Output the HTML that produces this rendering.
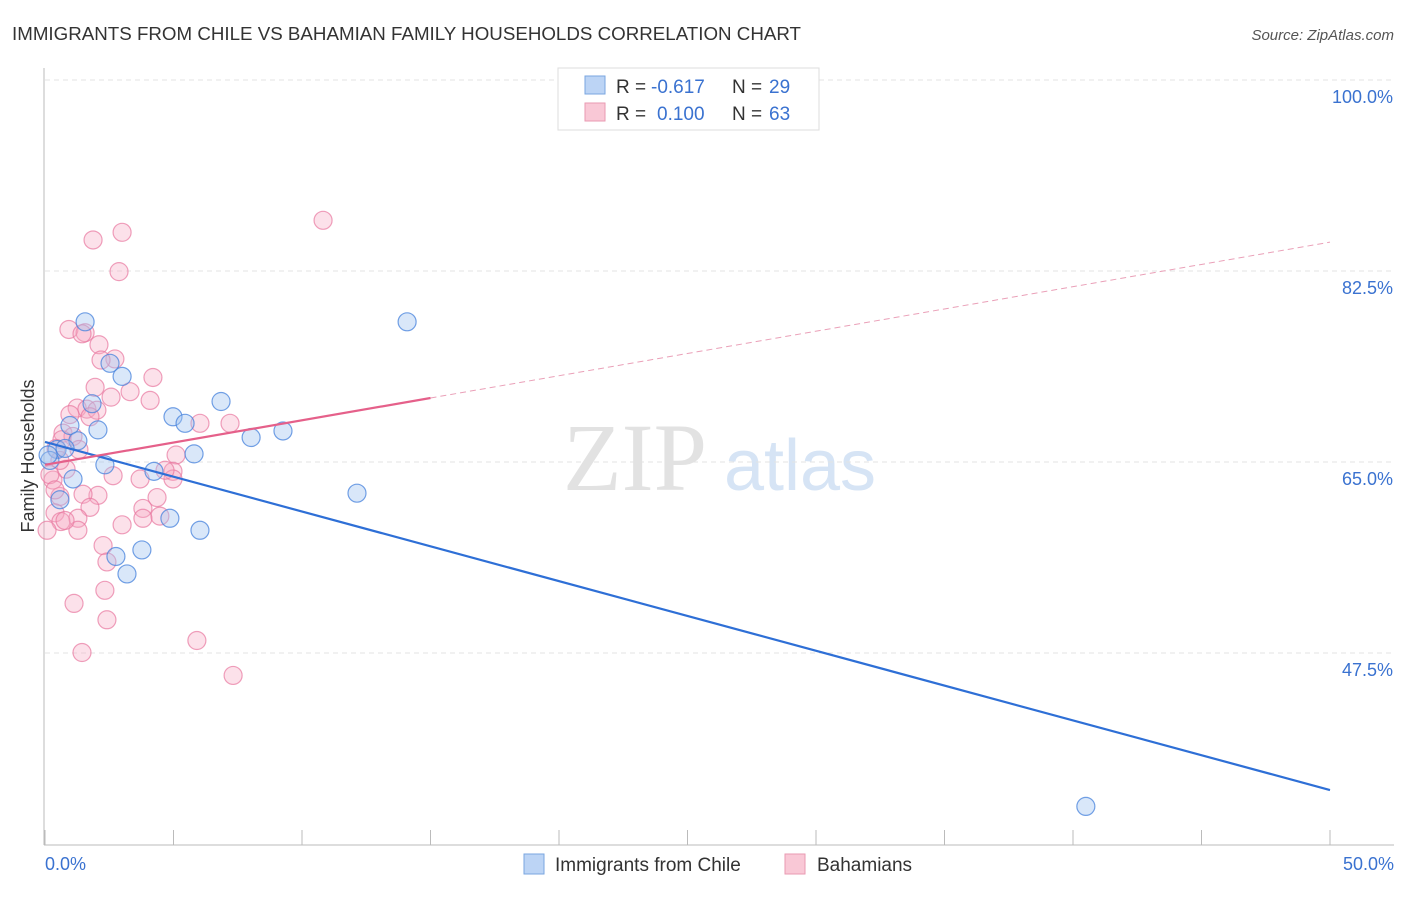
<!DOCTYPE html>
<html><head><meta charset="utf-8"><style>
body{margin:0;background:#fff;font-family:"Liberation Sans",sans-serif}
</style></head><body>
<svg width="1406" height="892" xmlns="http://www.w3.org/2000/svg" font-family="Liberation Sans, sans-serif">
<text x="12" y="40" font-size="18" fill="#333" textLength="789" lengthAdjust="spacingAndGlyphs">IMMIGRANTS FROM CHILE VS BAHAMIAN FAMILY HOUSEHOLDS CORRELATION CHART</text>
<text x="1394" y="40" font-size="15" fill="#555" font-style="italic" text-anchor="end">Source: ZipAtlas.com</text>
<text x="635" y="490" font-size="96" fill="#e2e2e2" font-family="Liberation Serif, serif" text-anchor="middle">ZIP</text>
<text x="800" y="490" font-size="72" fill="#d6e4f5" text-anchor="middle">atlas</text>
<g id="grid"></g><g id="axes"></g><g id="marks"></g>
<text x="34" y="456" font-size="18" fill="#333" transform="rotate(-90 34 456)" text-anchor="middle">Family Households</text>
<g>
<rect x="558" y="68" width="261" height="62" fill="#fff" stroke="#ddd"/>
<rect x="585" y="76" width="20" height="18" fill="#bcd4f5" stroke="#7aa6e0"/>
<rect x="585" y="103" width="20" height="18" fill="#f9c8d6" stroke="#e99ab2"/>
<text x="616" y="93" font-size="19" fill="#333">R =</text>
<text x="651" y="93" font-size="19" fill="#3a72d0">-0.617</text>
<text x="732" y="93" font-size="19" fill="#333">N =</text>
<text x="769" y="93" font-size="19" fill="#3a72d0">29</text>
<text x="616" y="120" font-size="19" fill="#333">R =</text>
<text x="657" y="120" font-size="19" fill="#3a72d0">0.100</text>
<text x="732" y="120" font-size="19" fill="#333">N =</text>
<text x="769" y="120" font-size="19" fill="#3a72d0">63</text>
</g>
<g>
<rect x="524" y="854" width="20" height="20" fill="#bcd4f5" stroke="#7aa6e0"/>
<text x="555" y="871" font-size="19" fill="#333">Immigrants from Chile</text>
<rect x="785" y="854" width="20" height="20" fill="#f9c8d6" stroke="#e99ab2"/>
<text x="817" y="871" font-size="19" fill="#333">Bahamians</text>
</g>
</svg>
<script>
const yTicks=[47.5,65.0,82.5,100.0];
const xTickLabels=["0.0%","50.0%"];
const chileX=[1.56,2.53,3.0,1.83,4.98,6.85,5.45,2.06,0.97,1.28,0.47,8.02,9.26,5.8,2.33,4.24,1.09,12.14,4.86,6.03,3.77,2.76,3.19,14.09,40.5,0.19,0.58,0.12,0.78];
const chileY=[79.4,75.6,74.4,71.9,70.7,72.1,70.1,69.5,69.9,68.5,67.7,68.8,69.4,67.3,66.3,65.7,65.0,63.7,61.4,60.3,58.5,57.9,56.3,79.4,35.0,66.7,63.1,67.2,67.8];
const bahX=[1.87,3.0,2.88,10.82,0.93,1.56,1.44,2.1,2.72,2.18,4.2,1.95,3.31,2.57,1.25,1.63,2.02,1.75,6.03,7.2,0.7,1.09,0.66,1.32,0.43,5.1,4.98,4.98,0.82,2.65,3.7,0.31,2.06,0.58,1.48,4.36,3.81,0.39,1.75,4.47,1.28,0.62,3.81,3.0,1.28,0.08,2.26,2.41,1.13,2.41,1.44,5.91,7.32,0.58,0.19,0.39,0.78,0.97,4.09,4.67,2.33];
const bahY=[86.9,87.6,84.0,88.7,78.7,78.4,78.3,77.3,76.0,75.9,74.3,73.4,73.0,72.5,71.5,71.4,71.3,70.7,70.1,70.1,69.2,68.9,68.6,67.7,67.8,67.2,65.7,65.0,65.9,65.3,65.0,64.9,63.5,63.4,63.6,63.3,62.3,61.9,62.4,61.6,61.4,61.1,61.4,60.8,60.3,60.3,58.9,57.4,53.6,52.1,49.1,50.2,47.0,66.7,65.4,64.0,61.2,70.9,72.2,65.8,54.8];
const chileTrend=[68.4,36.5];
const bahTrend=[66.3,86.7];
const NS="http://www.w3.org/2000/svg";
const xs=v=>45+v*25.7, ys=v=>97+(100-v)*10.914;
function mk(t,a,p){const e=document.createElementNS(NS,t);for(const k in a)e.setAttribute(k,a[k]);p.appendChild(e);return e;}
const grid=document.getElementById('grid'),axes=document.getElementById('axes'),marks=document.getElementById('marks');
yTicks.forEach(t=>{const l=mk('line',{x1:45,x2:1394,y1:ys(t)-17,y2:ys(t)-17,stroke:'#e3e3e3','stroke-dasharray':'5,4'},grid);


const tx=mk('text',{x:1393,y:ys(t)+6,'font-size':18,fill:'#3a72d0','text-anchor':'end'},axes);tx.textContent=t.toFixed(1)+'%';

});
const ya=mk('line',{x1:44,x2:44,y1:68,y2:845,stroke:'#bbb'},axes);


const xa=mk('line',{x1:44,x2:1394,y1:845,y2:845,stroke:'#bbb'},axes);


for(let i=0;i<=10;i++){const t=mk('line',{x1:xs(i*5),x2:xs(i*5),y1:830,y2:845,stroke:'#bbb'},axes);

}
[[0,'start',45],[50,'end',1394]].forEach((d,i)=>{const t=mk('text',{x:d[2],y:870,'font-size':18,fill:'#3a72d0','text-anchor':d[1]},axes);t.textContent=xTickLabels[i];

});
bahX.forEach((x,i)=>{const c=mk('circle',{cx:xs(x),cy:ys(bahY[i]),r:9,fill:'rgba(246,170,195,0.35)',stroke:'rgba(232,120,160,0.7)','stroke-width':1.2},marks);

});
chileX.forEach((x,i)=>{const c=mk('circle',{cx:xs(x),cy:ys(chileY[i]),r:9,fill:'rgba(160,195,240,0.4)',stroke:'rgba(70,130,220,0.75)','stroke-width':1.2},marks);

});
const cl=mk('line',{x1:xs(0),y1:ys(chileTrend[0]),x2:xs(50),y2:ys(chileTrend[1]),stroke:'#2e6fd6','stroke-width':2.2},marks);


const bm=v=>bahTrend[0]+(bahTrend[1]-bahTrend[0])*v/50;
const bl=mk('line',{x1:xs(0),y1:ys(bm(0)),x2:xs(15),y2:ys(bm(15)),stroke:'#e5608a','stroke-width':2.2},marks);


const bd=mk('line',{x1:xs(15),y1:ys(bm(15)),x2:xs(50),y2:ys(bm(50)),stroke:'#eaa0b8','stroke-width':1,'stroke-dasharray':'6,4'},marks);


</script>
</body></html>
